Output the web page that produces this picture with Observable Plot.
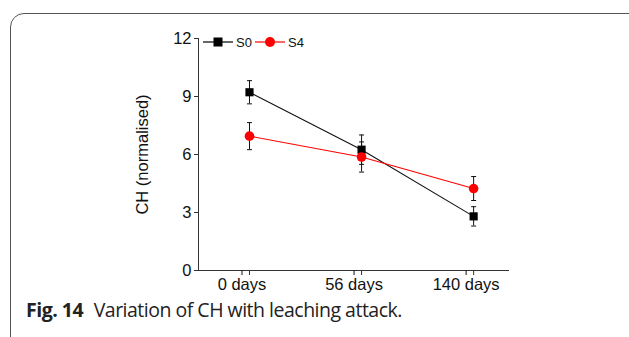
<!DOCTYPE html>
<html><head><meta charset="utf-8">
<script src="https://cdn.jsdelivr.net/npm/d3@7"></script>
<script src="https://cdn.jsdelivr.net/npm/@observablehq/plot@0.6"></script>
<style>
html,body{margin:0;padding:0;background:#fff;width:629px;height:337px;overflow:hidden;}
#wrap{position:relative;width:629px;height:337px;}
#box{position:absolute;left:10px;top:13px;width:700px;height:400px;border:1px solid #555;border-radius:14px;box-sizing:border-box;}
#chart{position:absolute;left:0;top:0;}
#legend{position:absolute;left:203px;top:33px;font-family:"Liberation Sans",Arial,sans-serif;font-size:13px;}
#caption{position:absolute;left:26px;top:296px;font-family:"Open Sans",sans-serif;font-size:19.5px;color:#222;white-space:nowrap;letter-spacing:-0.5px;}
#caption b{font-weight:700;margin-right:6px;}
</style></head>
<body><div id="wrap"><div id="box"></div><div id="chart"></div><div id="legend"></div><div id="caption"><b>Fig. 14</b> Variation of CH with leaching attack.</div></div>
<script>
const categories = ["0 days", "56 days", "140 days"];
const s0Values = [9.22, 6.25, 2.80];
const s0Errors = [0.60, 0.76, 0.50];
const s4Values = [6.95, 5.87, 4.24];
const s4Errors = [0.70, 0.78, 0.62];
const yTicks = [0, 3, 6, 9, 12];
const seriesNames = ["S0", "S4"];

const data = [];
categories.forEach((c, i) => {
  data.push({series: "S0", i, v: s0Values[i], e: s0Errors[i]});
  data.push({series: "S4", i, v: s4Values[i], e: s4Errors[i]});
});
const s0 = data.filter(d => d.series === "S0");
const s4 = data.filter(d => d.series === "S4");
const xDomain = [-0.455, 2.32];
const cap = {draw(ctx, size){ const w = 2.5; ctx.moveTo(-w, 0); ctx.lineTo(w, 0); }};
const font = '"Liberation Sans", Arial, sans-serif';

const chart = Plot.plot({
  width: 629, height: 300,
  marginLeft: 198, marginRight: 120, marginTop: 38, marginBottom: 30,
  style: {fontFamily: font, fontSize: "16.5px", color: "#111", background: "transparent"},
  x: {type: "linear", domain: xDomain, label: null},
  y: {domain: [0, 12], label: null},
  marks: [
    Plot.ruleY([0], {stroke: "#333", strokeWidth: 1}),
    Plot.ruleX([xDomain[0]], {stroke: "#333", strokeWidth: 1}),
    Plot.axisY({ticks: yTicks, tickSize: 4, tickPadding: 3, fontSize: 16.5, stroke: "#333", label: null}),
    Plot.axisX({ticks: [0,1,2], tickFormat: i => categories[i], tickSize: 5, tickPadding: 3, fontSize: 16.5, dx: -7.5, label: null}),
    Plot.axisX({ticks: [0,1,2], tickFormat: () => "", tickSize: 5, stroke: "#333", label: null, text: null}),
    Plot.text(["CH (normalised)"], {frameAnchor: "left", rotate: -90, textAnchor: "middle", dx: -56, fontSize: 16.5, fill: "#111"}),
    Plot.line(s0, {x: "i", y: "v", stroke: "#111", strokeWidth: 1.1}),
    Plot.line(s4, {x: "i", y: "v", stroke: "#ff0000", strokeWidth: 1.1}),
    Plot.ruleX(data, {x: "i", y1: d => d.v - d.e, y2: d => d.v + d.e, stroke: "#111", strokeWidth: 1}),
    Plot.dot(data, {x: "i", y: d => d.v - d.e, symbol: cap, stroke: "#111", strokeWidth: 1, r: 3}),
    Plot.dot(data, {x: "i", y: d => d.v + d.e, symbol: cap, stroke: "#111", strokeWidth: 1, r: 3}),
    Plot.dot(s0, {x: "i", y: "v", symbol: "square", fill: "#000", r: 4.6}),
    Plot.dot(s4, {x: "i", y: "v", symbol: "circle", fill: "#ff0000", r: 4.8})
  ]
});
document.getElementById("chart").appendChild(chart);

const leg = d3.select("#legend").append("svg").attr("width", 120).attr("height", 18);
const colors = ["#000", "#ff0000"];
const legX = [0, 52];
seriesNames.forEach((n, k) => {
  const g = leg.append("g").attr("transform", `translate(${legX[k]},9)`);
  g.append("line").attr("x1", 0).attr("x2", 30).attr("y1", 0).attr("y2", 0).attr("stroke", colors[k]).attr("stroke-width", 1.2);
  if (k === 0) g.append("rect").attr("x", 10.5).attr("y", -4.5).attr("width", 9).attr("height", 9).attr("fill", "#000");
  else g.append("circle").attr("cx", 15).attr("cy", 0).attr("r", 5).attr("fill", "#ff0000");
  g.append("text").attr("x", 33).attr("y", 5).attr("font-family", font).attr("font-size", 13).attr("fill", "#111").text(n);
});
</script></body></html>
